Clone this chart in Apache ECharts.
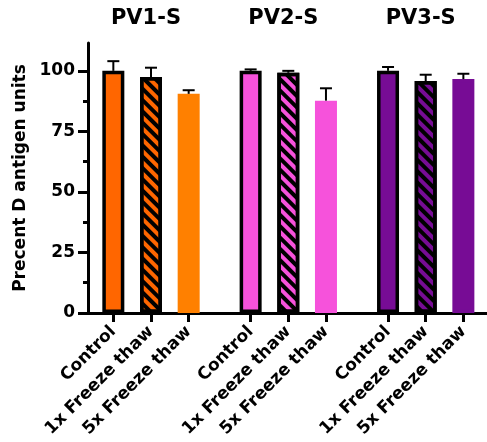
<!DOCTYPE html>
<html><head><meta charset="utf-8">
<script src="https://cdn.jsdelivr.net/npm/echarts@6/dist/echarts.min.js"></script>
<style>html,body{margin:0;padding:0;background:#fff}#c{width:487px;height:442px}</style>
</head><body><div id="c"></div>
<script>
// ---- data ----
const groups = ['PV1-S', 'PV2-S', 'PV3-S'];
const categories = ['Control', '1x Freeze thaw', '5x Freeze thaw'];
const pv1Values = [100, 97.5, 90.5];
const pv1Errors = [4.0, 3.8, 1.5];
const pv2Values = [100, 99.2, 87.7];
const pv2Errors = [0.6, 0.8, 5.1];
const pv3Values = [100, 95.8, 96.6];
const pv3Errors = [1.6, 2.6, 2.2];
const yTicks = [0, 25, 50, 75, 100];
const yMinorTicks = [12.5, 37.5, 62.5, 87.5];
const yTitle = 'Precent D antigen units';
const yMax = 111.5;

// ---- style / layout ----
const FONT = 'DejaVu Sans';
const allValues = [pv1Values, pv2Values, pv3Values];
const allErrors = [pv1Errors, pv2Errors, pv3Errors];
const groupColors = [
  ['#FF6600', '#FF6600', '#FF8000'],
  ['#F652DB', '#F652DB', '#F652DB'],
  ['#770C95', '#770C95', '#770C95']
];
const bordered = [true, true, false];
const hatched = [false, true, false];
const groupLefts = [94.5, 231.8, 369.2];
const GW = 113, TOP = 43, H = 270;

const chart = echarts.init(document.getElementById('c'), null, {renderer: 'canvas'});

const grids = [{left: 88, top: TOP, width: 399, height: H, outerBoundsMode: 'none'}]
  .concat(groupLefts.map(l => ({left: l, top: TOP, width: GW, height: H, outerBoundsMode: 'none'})));

const xAxes = [{
  gridIndex: 0, type: 'value', min: 0, max: 1,
  axisLine: {show: true, lineStyle: {color: '#000', width: 3}},
  axisTick: {show: false}, axisLabel: {show: false}, splitLine: {show: false}
}].concat(groups.map((g, k) => ({
  gridIndex: k + 1, type: 'category', data: categories,
  axisLine: {show: false},
  axisTick: {show: true, alignWithLabel: true, length: 9, lineStyle: {color: '#000', width: 3}},
  axisLabel: {rotate: 45, margin: 16, interval: 0, fontFamily: FONT, fontWeight: 'bold', fontSize: 17, color: '#000'},
  splitLine: {show: false}
})));

const yAxes = [{
  gridIndex: 0, type: 'value', position: 'left', min: 0, max: yMax,
  axisLine: {show: true, lineStyle: {color: '#000', width: 3}},
  axisTick: {show: true, length: 10, customValues: yTicks, lineStyle: {color: '#000', width: 3}},
  axisLabel: {customValues: yTicks, margin: 13, fontFamily: FONT, fontWeight: 'bold', fontSize: 17, color: '#000'},
  splitLine: {show: false},
  name: yTitle, nameLocation: 'middle', nameGap: 51, nameRotate: 90,
  nameTextStyle: {fontFamily: FONT, fontWeight: 'bold', fontSize: 17, color: '#000'}
}, {
  gridIndex: 0, type: 'value', position: 'left', min: 0, max: yMax,
  axisLine: {show: false},
  axisTick: {show: true, length: 5, customValues: yMinorTicks, lineStyle: {color: '#000', width: 3}},
  axisLabel: {show: false}, splitLine: {show: false}
}].concat(groups.map((g, k) => ({
  gridIndex: k + 1, type: 'value', min: 0, max: yMax, show: false, splitLine: {show: false}
})));

const series = [];
groups.forEach((g, k) => {
  series.push({
    type: 'bar', xAxisIndex: k + 1, yAxisIndex: k + 2, barWidth: 22, z: 2,
    data: allValues[k].map((v, i) => ({
      value: v,
      itemStyle: {
        color: groupColors[k][i],
        borderColor: bordered[i] ? '#000' : groupColors[k][i],
        borderWidth: 3.5,
        decal: hatched[i] ? {
          symbol: 'rect', symbolSize: 1, dashArrayX: [1, 0], dashArrayY: [3.5, 3.5],
          rotation: Math.PI / 4, color: '#000'
        } : null
      }
    }))
  });
  series.push({
    type: 'custom', xAxisIndex: k + 1, yAxisIndex: k + 2, z: 3,
    data: allValues[k].map((v, i) => [i, v, allErrors[k][i]]),
    renderItem: (params, api) => {
      const x = api.value(0), v = api.value(1), e = api.value(2);
      const p0 = api.coord([x, v]);
      const p1 = api.coord([x, v + e]);
      return {type: 'group', children: [
        {type: 'line', shape: {x1: p0[0], y1: p0[1], x2: p1[0], y2: p1[1]}, style: {stroke: '#000', lineWidth: 2}},
        {type: 'line', shape: {x1: p1[0] - 6, y1: p1[1], x2: p1[0] + 6, y2: p1[1]}, style: {stroke: '#000', lineWidth: 2}}
      ]};
    }
  });
});

const titles = groups.map((g, k) => ({
  text: g, left: groupLefts[k] + GW / 2 - 5, top: 8, textAlign: 'center', padding: 0,
  textStyle: {fontFamily: FONT, fontWeight: 'bold', fontSize: 21, color: '#000'}
}));

chart.setOption({
  animation: false,
  backgroundColor: '#fff',
  title: titles,
  grid: grids,
  xAxis: xAxes,
  yAxis: yAxes,
  series: series
});
</script></body></html>
